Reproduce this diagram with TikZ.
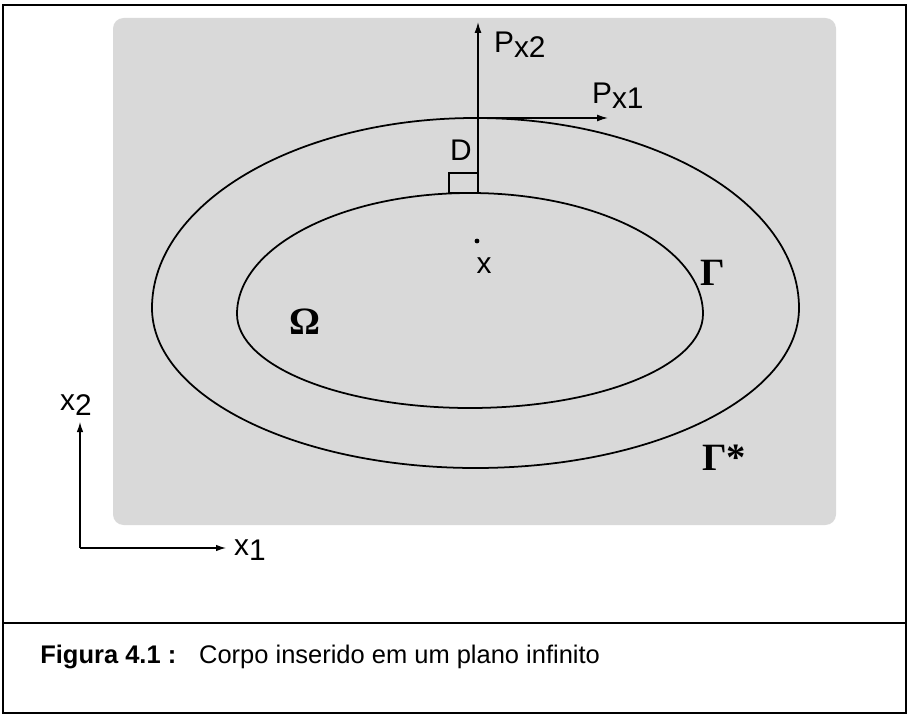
\documentclass[tikz,border=0pt]{standalone}
\usepackage{fontspec}
\setmainfont{Liberation Sans}
\newfontfamily\grkfont{Liberation Serif}
\usetikzlibrary{arrows.meta, calc, positioning}
\tikzset{
  bndline/.style = {draw=black, line width=1pt},
  forcearr/.style = {-{Latex[length=2.2mm, width=1.4mm]}, line width=0.8pt},
  axisarr/.style = {-{Latex[length=2mm, width=1.3mm]}, line width=0.7pt},
  biglab/.style = {font=\fontsize{17}{20}\selectfont, inner sep=1pt},
  greeklab/.style = {font=\fontsize{22}{24}\selectfont\grkfont\bfseries, inner sep=1pt},
  caplab/.style = {font=\fontsize{14.5}{17}\selectfont, inner sep=0pt, anchor=west},
}

\begin{document}
\begin{tikzpicture}[x=0.02cm, y=-0.02cm]
  \useasboundingbox (0,0) rectangle (909,716);
  % frame and caption box
  \draw[line width=1.6pt] (3,5) rectangle (906,713);
  \draw[line width=1.2pt] (3,623) -- (906,623);
  % infinite plane
  \fill[black!15, rounded corners=6pt] (113,18) rectangle (836,525);
  % boundaries (egg shaped: flatter below)
  \coordinate (OutR) at (799,308);
  \coordinate (InR) at (703,314);
  \draw[bndline] (OutR) arc[start angle=0, end angle=180, x radius=323.5, y radius=160]
    arc[start angle=180, end angle=360, x radius=323.5, y radius=190] -- cycle;
  \draw[bndline] (InR) arc[start angle=0, end angle=180, x radius=233, y radius=94]
    arc[start angle=180, end angle=360, x radius=233, y radius=121] -- cycle;
  % loads at the point
  \coordinate (Dbase) at (478,193);
  \coordinate (Ptop) at (478,22);
  \coordinate (Pcross) at (478,118);
  \coordinate (Pright) at (608,118);
  \draw[forcearr] (Dbase) -- (Ptop);
  \draw[forcearr] (Pcross) -- (Pright);
  \draw[line width=0.8pt] (449,193) rectangle (478,173);
  \node[biglab] (dlab) at (461,150) {D};
  \node[biglab, anchor=west] (px2) at (492,45) {P\raisebox{-0.3ex}{x2}};
  \node[biglab, anchor=west] (px1) at (590,96) {P\raisebox{-0.3ex}{x1}};
  % source point
  \fill (477,241) circle (2.4);
  \node[biglab] (xlab) at (484,266) {x};
  % region labels
  \node[greeklab] (gam) at (713,273) {Γ};
  \node[greeklab] (omg) at (305,322) {Ω};
  \node[greeklab] (gams) at (724,458) {Γ*};
  % axes
  \coordinate (O) at (80,548);
  \coordinate (X2end) at (80,422);
  \coordinate (X1end) at (226,548);
  \draw[axisarr] (O) -- (X2end);
  \draw[axisarr] (O) -- (X1end);
  \node[biglab] (x2lab) at (76,405) {x\raisebox{-0.3ex}{2}};
  \node[biglab, anchor=west] (x1lab) at (232,550) {x\raisebox{-0.3ex}{1}};
  % caption
  \node[caplab] (cap) at (40,657) {\textbf{Figura 4.1 :}\hspace{0.9em}Corpo inserido em um plano infinito};
\end{tikzpicture}
\end{document}
